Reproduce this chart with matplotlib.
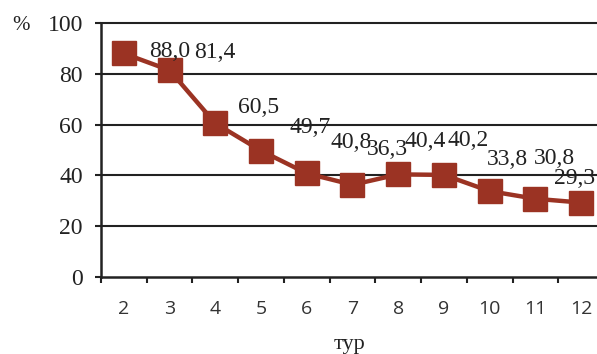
import matplotlib
matplotlib.use("Agg")
import matplotlib.pyplot as plt

rounds = ["2", "3", "4", "5", "6", "7", "8", "9", "10", "11", "12"]
values = [88.0, 81.4, 60.5, 49.7, 40.8, 36.3, 40.4, 40.2, 33.8, 30.8, 29.3]
value_labels = ["88,0", "81,4", "60,5", "49,7", "40,8", "36,3", "40,4", "40,2", "33,8", "30,8", "29,3"]
y_ticks = [0, 20, 40, 60, 80, 100]
x_title = "тур"
y_title = "%"

# label offsets in pixels (dx, dy up) relative to marker
label_dx = [46, 45, 43, 49, 44, 35, 27, 24, 18, 19, -7]
label_dy = [1.5, 18, 16, 23, 31, 35, 33, 34, 32, 40, 24]

color = "#9B3323"
serif = "Liberation Serif"
sans = "Open Sans"
px = 0.72  # points per pixel at 100 dpi

fig = plt.figure(figsize=(5.97, 3.54), dpi=100)
ax = fig.add_axes([101/597, 77/354, 503/597, 254/354])

xs = list(range(len(rounds)))
ax.plot(xs, values, color=color, lw=3.2, marker="s", markersize=17,
        markerfacecolor=color, markeredgecolor=color, zorder=3, clip_on=False)

for x, v, lab, dx, dy in zip(xs, values, value_labels, label_dx, label_dy):
    ax.annotate(lab, (x, v), xytext=(dx * px, dy * px), textcoords="offset points",
                ha="center", va="center", fontsize=17, family=serif, color="#222222",
                zorder=4, annotation_clip=False)

ax.set_xlim(-0.5, len(rounds) - 0.5)
ax.set_ylim(0, 100)
ax.set_yticks(y_ticks)
ax.set_yticklabels([str(t) for t in y_ticks], family=serif, fontsize=17, color="#222222")
ax.set_xticks(xs)
ax.set_xticklabels(rounds, family=sans, fontsize=14, color="#333333")
ax.set_xticks([i - 0.5 for i in range(len(rounds) + 1)], minor=True)
ax.tick_params(axis="x", which="major", length=0, pad=23 * px)
ax.tick_params(axis="x", which="minor", length=6 * px, width=1.5, color="#222222")
ax.tick_params(axis="y", which="major", length=6 * px, width=1.5, color="#222222", pad=12 * px)

for y in y_ticks[1:]:
    ax.axhline(y, color="#222222", lw=1.5, zorder=1, clip_on=False)

for s in ["top", "right"]:
    ax.spines[s].set_visible(False)
for s in ["left", "bottom"]:
    ax.spines[s].set_color("#222222")
    ax.spines[s].set_linewidth(1.8)

fig.text(350/597, 1 - 344/354, x_title, ha="center", va="center", family=serif, fontsize=16, color="#222222")
fig.text(21/597, 1 - 26/354, y_title, ha="center", va="center", family=serif, fontsize=15, color="#222222")

fig.savefig("out.png", dpi=100)
